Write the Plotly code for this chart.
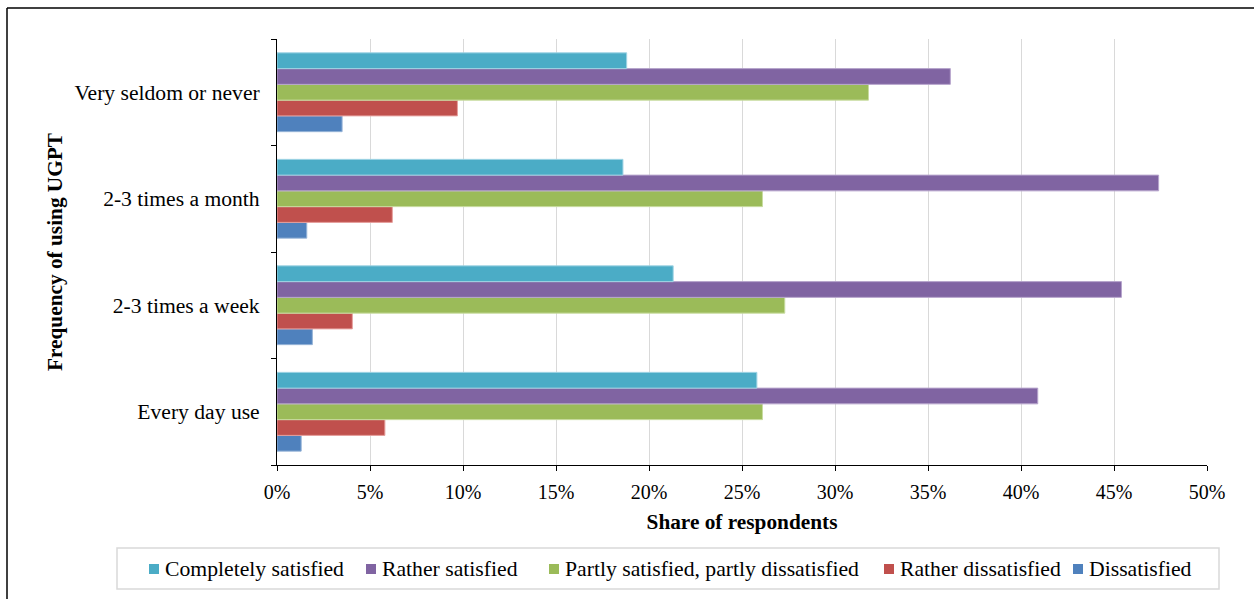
import plotly.graph_objects as go

# Usage frequency groups (bottom to top) and satisfaction shares, %
frequency = ["Every day use", "2-3 times a week", "2-3 times a month", "Very seldom or never"]

completely_satisfied = [25.8, 21.3, 18.6, 18.8]
rather_satisfied = [40.9, 45.4, 47.4, 36.2]
partly_satisfied = [26.1, 27.3, 26.1, 31.8]
rather_dissatisfied = [5.8, 4.05, 6.2, 9.7]
dissatisfied = [1.3, 1.9, 1.6, 3.5]

x_ticks = [0, 5, 10, 15, 20, 25, 30, 35, 40, 45, 50]
x_tick_labels = [f"{v}%" for v in x_ticks]

# Drawn bottom-up inside each group, so the list runs from the lowest bar
series = [
    ("Dissatisfied", dissatisfied, "#4F81BD", "#95B3D7"),
    ("Rather dissatisfied", rather_dissatisfied, "#C0504D", "#E6A09E"),
    ("Partly satisfied, partly dissatisfied", partly_satisfied, "#9BBB59", "#C8DCA0"),
    ("Rather satisfied", rather_satisfied, "#8064A2", "#B6A4CC"),
    ("Completely satisfied", completely_satisfied, "#4BACC6", "#A0D4E4"),
]

# Legend row, left to right: label start (px) for each series
legend_order = ["Completely satisfied", "Rather satisfied",
                "Partly satisfied, partly dissatisfied", "Rather dissatisfied", "Dissatisfied"]
legend_text_x = [163, 380, 563, 898, 1087]

FONT = "Liberation Serif, Times New Roman, serif"

fig = go.Figure()
for name, values, color, edge in series:
    fig.add_trace(go.Bar(
        name=name,
        y=frequency,
        x=values,
        orientation="h",
        marker=dict(color=color, line=dict(color=edge, width=1)),
        showlegend=False,
    ))

W, H = 1254, 599
L, R, T, B = 277, 47, 39, 134
pw, ph = W - L - R, H - T - B


def px_x(p):
    return (p - L) / pw


def px_y(p):
    return (H - B - p) / ph


shapes = [
    # outer frame (top and left edges)
    dict(type="line", xref="paper", yref="paper",
         x0=px_x(7), x1=px_x(1254), y0=px_y(8), y1=px_y(8),
         line=dict(color="black", width=1.5)),
    dict(type="line", xref="paper", yref="paper",
         x0=px_x(7), x1=px_x(7), y0=px_y(8), y1=px_y(599),
         line=dict(color="black", width=1.5)),
    # legend box
    dict(type="rect", xref="paper", yref="paper",
         x0=px_x(117), x1=px_x(1219), y0=px_y(548), y1=px_y(589),
         line=dict(color="#D9D9D9", width=1.5), fillcolor="white"),
]
annotations = []
colors = {name: color for name, _, color, _ in series}
legend_cy = 569
for name, tx in zip(legend_order, legend_text_x):
    shapes.append(dict(type="rect", xref="paper", yref="paper",
                       x0=px_x(tx - 14), x1=px_x(tx - 4),
                       y0=px_y(legend_cy + 5), y1=px_y(legend_cy - 5),
                       line=dict(width=0), fillcolor=colors[name]))
    annotations.append(dict(text=name, xref="paper", yref="paper",
                            x=px_x(tx), y=px_y(legend_cy),
                            xanchor="left", yanchor="middle", showarrow=False,
                            font=dict(family=FONT, size=21.7, color="black")))

fig.update_layout(
    width=W,
    height=H,
    margin=dict(l=L, r=R, t=T, b=B, autoexpand=False),
    paper_bgcolor="white",
    plot_bgcolor="white",
    barmode="group",
    bargap=0.26,
    bargroupgap=0,
    showlegend=False,
    font=dict(family=FONT, size=21, color="black"),
    xaxis=dict(
        range=[0, 50],
        tickvals=x_ticks,
        ticktext=x_tick_labels,
        showgrid=True,
        gridcolor="#D9D9D9",
        gridwidth=1,
        zeroline=False,
        showline=True,
        linecolor="black",
        linewidth=1,
        ticks="outside",
        ticklen=5,
        tickcolor="black",
        ticklabelstandoff=4,
        tickfont=dict(family=FONT, size=20),
        title=dict(text="<b>Share of respondents</b>", font=dict(family=FONT, size=21.3), standoff=12),
    ),
    yaxis=dict(
        categoryorder="array",
        categoryarray=frequency,
        showgrid=False,
        showline=True,
        linecolor="black",
        linewidth=1,
        ticks="outside",
        tickson="boundaries",
        ticklen=5,
        tickcolor="black",
        ticklabelstandoff=12,
        tickfont=dict(family=FONT, size=21.6),
        title=dict(text="<b>Frequency of using UGPT</b>", font=dict(family=FONT, size=21.3), standoff=5),
    ),
    shapes=shapes,
    annotations=annotations,
)

fig.write_html("out.html")
